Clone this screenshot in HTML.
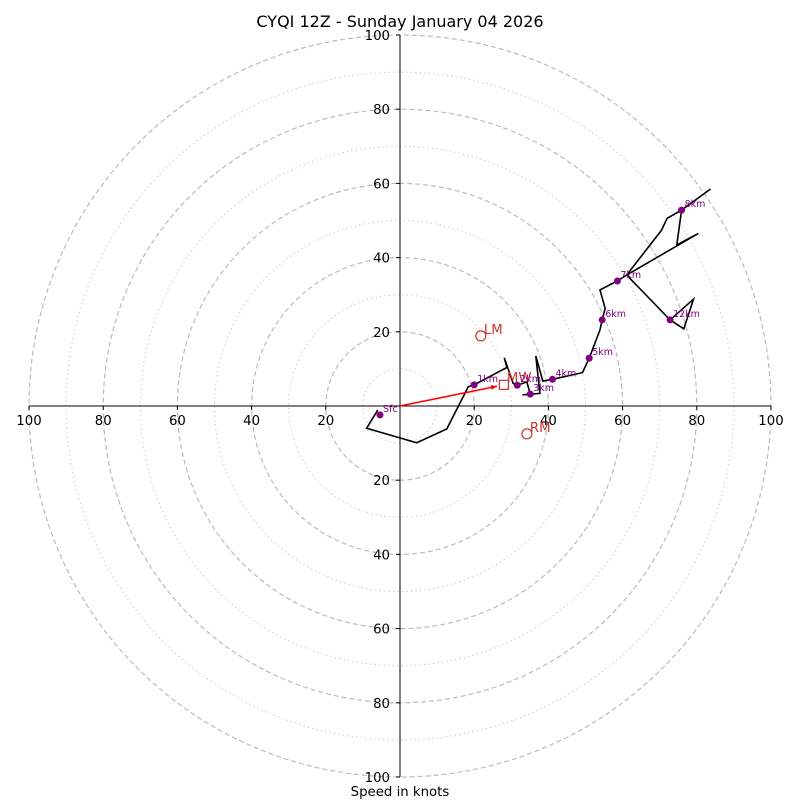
<!DOCTYPE html>
<html><head><meta charset="utf-8"><style>
body{margin:0;background:#fff}
svg{display:block;font-family:"DejaVu Sans","Liberation Sans",sans-serif}
</style></head><body>
<svg id="chart" width="800" height="800" viewBox="0 0 800 800" xmlns="http://www.w3.org/2000/svg">
<rect width="800" height="800" fill="#fff"/>
<text x="400" y="27" text-anchor="middle" font-size="16">CYQI 12Z - Sunday January 04 2026</text>
<g id="rings"></g>
<g id="axes"></g>
<g id="series"></g>
<text x="400" y="796" text-anchor="middle" font-size="13.3">Speed in knots</text>
</svg>
<script>
const ringSpeeds = [10,20,30,40,50,60,70,80,90,100];
const tickLabels = [100,80,60,40,20,20,40,60,80,100];
const tickValues = [-100,-80,-60,-40,-20,20,40,60,80,100];
const traceU = [-6.0,-9.0,4.5,12.6,18.4,20.0,28.8,28.1,30.5,31.6,34.2,35.1,33.0,37.7,36.6,38.5,41.1,49.2,51.0,53.9,54.5,55.3,53.9,58.6,61.1,70.5,72.0,75.9,83.7,75.9,74.6,80.4,61.1,72.8,76.5,79.1,72.8];
const traceV = [-1.1,-6.0,-9.9,-6.2,5.2,5.7,10.4,13.0,6.1,5.6,6.5,3.2,3.0,3.4,13.5,6.7,7.2,9.0,12.9,20.5,23.2,26.3,31.3,33.7,35.3,47.4,50.6,52.8,58.5,52.8,43.4,46.5,35.3,23.2,20.8,28.8,23.2];
const markerLabels = ['Sfc','1km','2km','3km','4km','5km','6km','7km','8km','12km'];
const markerU = [-5.4,20.0,31.6,35.1,41.1,51.0,54.5,58.6,75.9,72.8];
const markerV = [-2.4,5.7,5.6,3.2,7.2,12.9,23.2,33.7,52.8,23.2];
const stormLabels = ['LM','RM'];
const stormU = [21.8,34.2];
const stormV = [18.9,-7.5];
const meanWindU = [28.0];
const meanWindV = [5.7];

const CX=400, CY=406, K=3.71;
const sx=u=>CX+u*K, sy=v=>CY-v*K;
const NS='http://www.w3.org/2000/svg';
function mk(tag,parent,attrs){const e=document.createElementNS(NS,tag);for(const k in attrs)e.setAttribute(k,attrs[k]);parent.appendChild(e);return e;}

const rings=document.getElementById('rings');
ringSpeeds.forEach(s=>{
  const c=mk('circle',rings,{cx:CX,cy:CY,r:s*K,fill:'none',stroke:s%20===0?'#bbb':'#ccc','stroke-width':s%20===0?1.2:1,'stroke-dasharray':s%20===0?'5,3':'1.5,3'});
  
  
});
const axes=document.getElementById('axes');
mk('line',axes,{x1:sx(-100),y1:CY,x2:sx(100),y2:CY,stroke:'#000','stroke-width':1});
mk('line',axes,{x1:CX,y1:sy(100),x2:CX,y2:sy(-100),stroke:'#000','stroke-width':1});
tickValues.forEach((t,i)=>{
  mk('line',axes,{x1:sx(t),y1:CY,x2:sx(t),y2:CY+4,stroke:'#000'});
  const tx=mk('text',axes,{x:sx(t),y:CY+19,'text-anchor':'middle','font-size':13.3});
  tx.textContent=tickLabels[i];
  
  
  mk('line',axes,{x1:CX-4,y1:sy(t),x2:CX,y2:sy(t),stroke:'#000'});
  const ty=mk('text',axes,{x:CX-10,y:sy(-t)+5,'text-anchor':'end','font-size':13.3});
  ty.textContent=tickLabels[i];
  
  
});

const series=document.getElementById('series');
const pts=traceU.map((u,i)=>sx(u)+','+sy(traceV[i])).join(' ');
const pl=mk('polyline',series,{points:pts,fill:'none',stroke:'#000','stroke-width':1.6,'stroke-linejoin':'miter'});



const mx=sx(meanWindU[0]), my=sy(meanWindV[0]);
const ang=Math.atan2(my-CY,mx-CX);
const ar=mk('line',series,{x1:CX,y1:CY,x2:mx-7*Math.cos(ang),y2:my-7*Math.sin(ang),stroke:'#f00','stroke-width':1.6});


const hx=mx-7*Math.cos(ang),hy=my-7*Math.sin(ang);
const head=mk('polygon',series,{points:`${hx},${hy} ${hx-6*Math.cos(ang)+2.5*Math.sin(ang)},${hy-6*Math.sin(ang)-2.5*Math.cos(ang)} ${hx-6*Math.cos(ang)-2.5*Math.sin(ang)},${hy-6*Math.sin(ang)+2.5*Math.cos(ang)}`,fill:'#f00'});


const sq=mk('rect',series,{x:mx-4.5,y:my-4.5,width:9,height:9,fill:'none',stroke:'#c33','stroke-width':1.2});


const mwt=mk('text',series,{x:mx+3,y:my-3,'font-size':13.3,fill:'#c33'});
mwt.textContent='MW';



markerU.forEach((u,i)=>{
  const c=mk('circle',series,{cx:sx(u),cy:sy(markerV[i]),r:3.5,fill:'#800080'});
  
  
  const t=mk('text',series,{x:sx(u)+3,y:sy(markerV[i])-3,'font-size':9.5,fill:'#800080'});
  t.textContent=markerLabels[i];
  
  
});
stormU.forEach((u,i)=>{
  const c=mk('circle',series,{cx:sx(u),cy:sy(stormV[i]),r:5,fill:'none',stroke:'#c33','stroke-width':1.2});
  
  
  const t=mk('text',series,{x:sx(u)+3,y:sy(stormV[i])-2,'font-size':13.3,fill:'#c33'});
  t.textContent=stormLabels[i];
  
  
});
</script>
</body></html>
